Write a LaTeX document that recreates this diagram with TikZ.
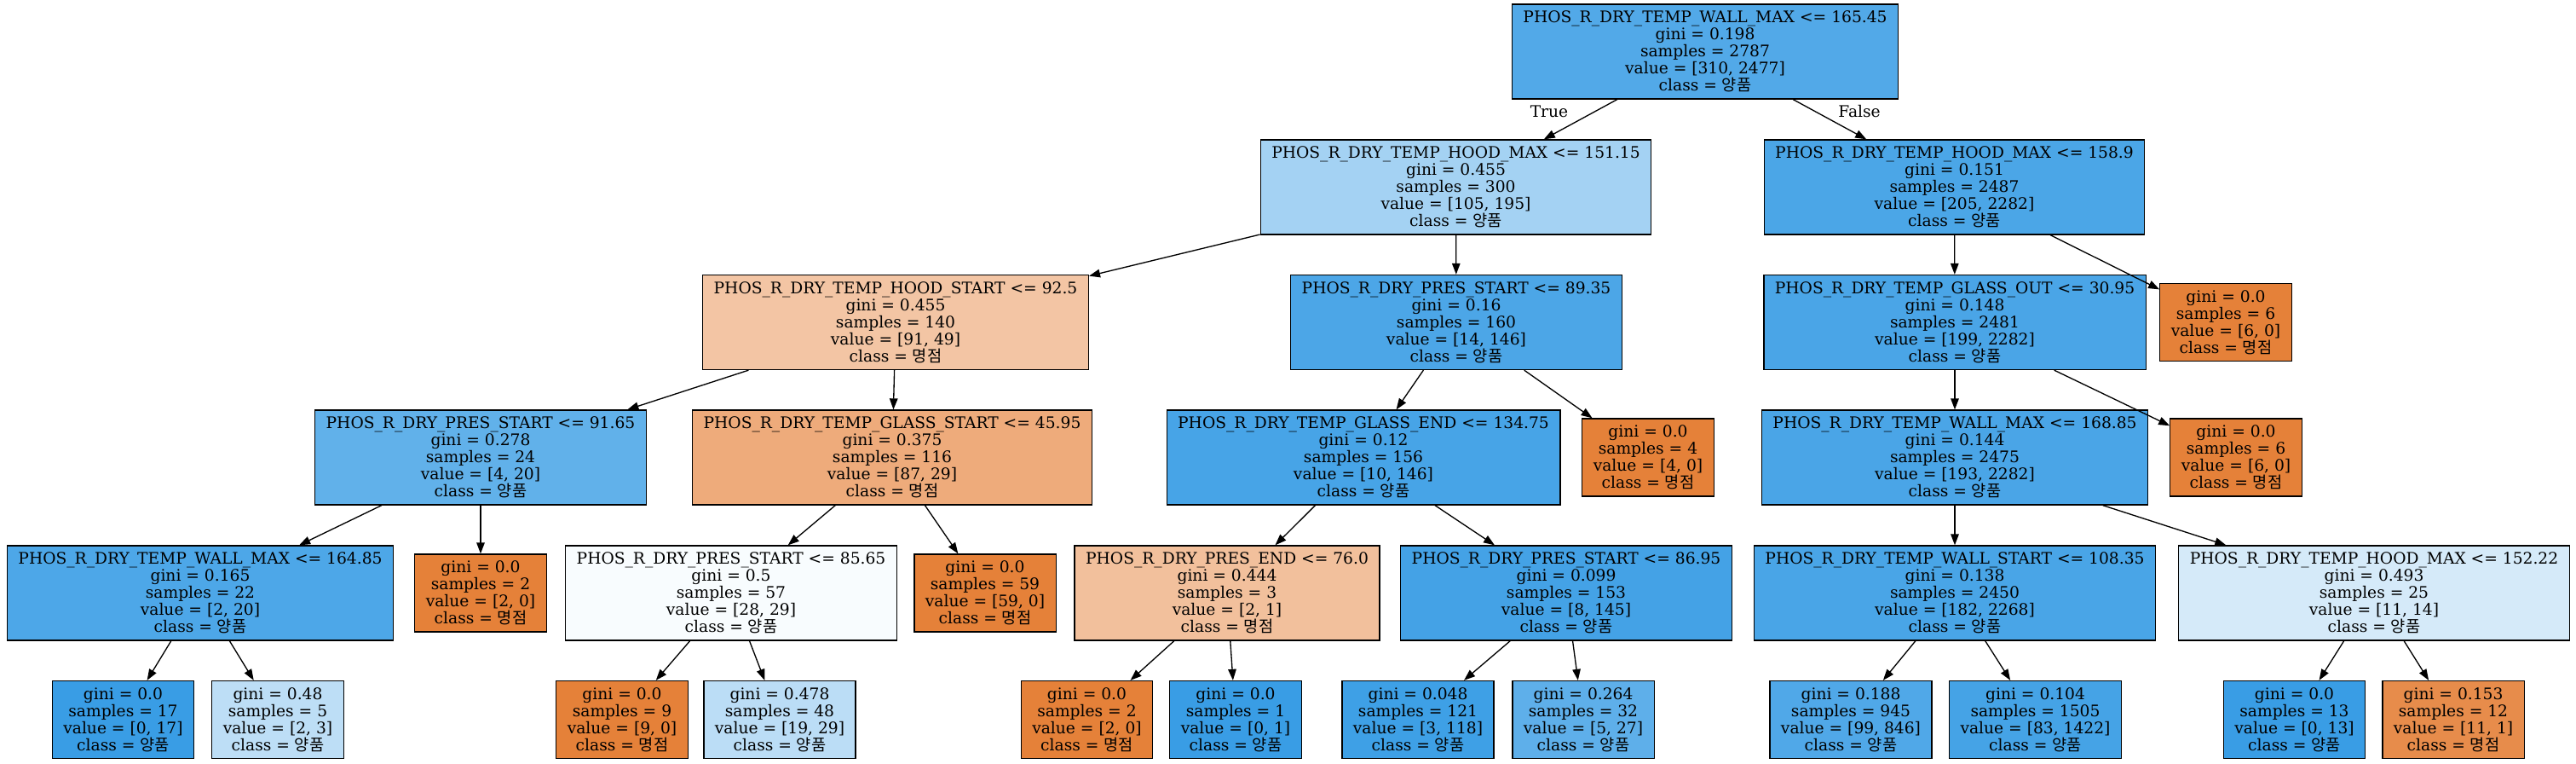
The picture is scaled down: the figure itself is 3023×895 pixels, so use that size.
\documentclass[tikz,border=0pt]{standalone}
\usepackage{fontspec}
\setmainfont{DejaVu Serif}
\newfontfamily\kr{Noto Sans CJK KR}
\usetikzlibrary{arrows.meta}
\definecolor{cA0}{RGB}{82,169,232}
\definecolor{cA}{RGB}{164,210,243}
\definecolor{cB}{RGB}{75,166,231}
\definecolor{cC}{RGB}{243,197,164}
\definecolor{cD}{RGB}{76,166,231}
\definecolor{cE}{RGB}{74,165,231}
\definecolor{cOr}{RGB}{229,129,57}
\definecolor{cBl}{RGB}{57,157,229}
\definecolor{cG}{RGB}{97,177,234}
\definecolor{cH}{RGB}{238,171,123}
\definecolor{cI}{RGB}{71,164,231}
\definecolor{cK}{RGB}{74,165,231}
\definecolor{cM}{RGB}{77,167,232}
\definecolor{cO}{RGB}{248,252,254}
\definecolor{cQ}{RGB}{242,192,156}
\definecolor{cR}{RGB}{68,162,230}
\definecolor{cS}{RGB}{73,165,231}
\definecolor{cT}{RGB}{213,234,249}
\definecolor{cV}{RGB}{189,222,246}
\definecolor{cX}{RGB}{187,221,246}
\definecolor{cAA}{RGB}{62,160,230}
\definecolor{cAB}{RGB}{94,175,234}
\definecolor{cAC}{RGB}{80,168,232}
\definecolor{cAD}{RGB}{69,163,230}
\definecolor{cAF}{RGB}{231,140,75}
\newcommand{\gp}{class = {\kr 양품}}
\newcommand{\mj}{class = {\kr 명점}}
\tikzset{
  tn/.style={draw=black, line width=1.33pt, rectangle, align=center,
    inner xsep=13pt, inner ysep=0pt, minimum height=111pt,
    font=\fontsize{18.67}{20}\selectfont},
  lf/.style={tn, minimum height=91pt},
  ed/.style={line width=1.33pt, -{Triangle[length=13pt,width=9.5pt]}},
  el/.style={font=\fontsize{18.67}{20}\selectfont},
}
\begin{document}
\begin{tikzpicture}[x=1pt,y=-1pt]
\useasboundingbox[fill=white] (0,0) rectangle (3023,895);
% level 0
\node[tn, fill=cA0] (n0) at (2001,60.5) {PHOS\_R\_DRY\_TEMP\_WALL\_MAX <= 165.45\\gini = 0.198\\samples = 2787\\value = [310, 2477]\\\gp};
% level 1
\node[tn, fill=cA] (nA) at (1708.5,219.5) {PHOS\_R\_DRY\_TEMP\_HOOD\_MAX <= 151.15\\gini = 0.455\\samples = 300\\value = [105, 195]\\\gp};
\node[tn, fill=cB] (nB) at (2293.5,219.5) {PHOS\_R\_DRY\_TEMP\_HOOD\_MAX <= 158.9\\gini = 0.151\\samples = 2487\\value = [205, 2282]\\\gp};
% level 2
\node[tn, fill=cC] (nC) at (1051,378) {PHOS\_R\_DRY\_TEMP\_HOOD\_START <= 92.5\\gini = 0.455\\samples = 140\\value = [91, 49]\\\mj};
\node[tn, fill=cD] (nD) at (1709,378) {PHOS\_R\_DRY\_PRES\_START <= 89.35\\gini = 0.16\\samples = 160\\value = [14, 146]\\\gp};
\node[tn, fill=cE] (nE) at (2294,378) {PHOS\_R\_DRY\_TEMP\_GLASS\_OUT <= 30.95\\gini = 0.148\\samples = 2481\\value = [199, 2282]\\\gp};
\node[lf, fill=cOr] (nF) at (2612,378) {gini = 0.0\\samples = 6\\value = [6, 0]\\\mj};
% level 3
\node[tn, fill=cG] (nG) at (564,536.5) {PHOS\_R\_DRY\_PRES\_START <= 91.65\\gini = 0.278\\samples = 24\\value = [4, 20]\\\gp};
\node[tn, fill=cH] (nH) at (1047,536.5) {PHOS\_R\_DRY\_TEMP\_GLASS\_START <= 45.95\\gini = 0.375\\samples = 116\\value = [87, 29]\\\mj};
\node[tn, fill=cI] (nI) at (1600,536.5) {PHOS\_R\_DRY\_TEMP\_GLASS\_END <= 134.75\\gini = 0.12\\samples = 156\\value = [10, 146]\\\gp};
\node[lf, fill=cOr] (nJ) at (1934,536.5) {gini = 0.0\\samples = 4\\value = [4, 0]\\\mj};
\node[tn, fill=cK] (nK) at (2294,536.5) {PHOS\_R\_DRY\_TEMP\_WALL\_MAX <= 168.85\\gini = 0.144\\samples = 2475\\value = [193, 2282]\\\gp};
\node[lf, fill=cOr] (nL) at (2624,536.5) {gini = 0.0\\samples = 6\\value = [6, 0]\\\mj};
% level 4
\node[tn, fill=cM] (nM) at (235,695.5) {PHOS\_R\_DRY\_TEMP\_WALL\_MAX <= 164.85\\gini = 0.165\\samples = 22\\value = [2, 20]\\\gp};
\node[lf, fill=cOr] (nN) at (564,695.5) {gini = 0.0\\samples = 2\\value = [2, 0]\\\mj};
\node[tn, fill=cO] (nO) at (858,695.5) {PHOS\_R\_DRY\_PRES\_START <= 85.65\\gini = 0.5\\samples = 57\\value = [28, 29]\\\gp};
\node[lf, fill=cOr] (nP) at (1156,695.5) {gini = 0.0\\samples = 59\\value = [59, 0]\\\mj};
\node[tn, fill=cQ] (nQ) at (1440,695.5) {PHOS\_R\_DRY\_PRES\_END <= 76.0\\gini = 0.444\\samples = 3\\value = [2, 1]\\\mj};
\node[tn, fill=cR] (nR) at (1838,695.5) {PHOS\_R\_DRY\_PRES\_START <= 86.95\\gini = 0.099\\samples = 153\\value = [8, 145]\\\gp};
\node[tn, fill=cS] (nS) at (2294,695.5) {PHOS\_R\_DRY\_TEMP\_WALL\_START <= 108.35\\gini = 0.138\\samples = 2450\\value = [182, 2268]\\\gp};
\node[tn, fill=cT] (nT) at (2786,695.5) {PHOS\_R\_DRY\_TEMP\_HOOD\_MAX <= 152.22\\gini = 0.493\\samples = 25\\value = [11, 14]\\\gp};
% level 5
\node[lf, fill=cBl] (nU) at (144.5,844) {gini = 0.0\\samples = 17\\value = [0, 17]\\\gp};
\node[lf, fill=cV] (nV) at (326,844) {gini = 0.48\\samples = 5\\value = [2, 3]\\\gp};
\node[lf, fill=cOr] (nW) at (730,844) {gini = 0.0\\samples = 9\\value = [9, 0]\\\mj};
\node[lf, fill=cX] (nX) at (915,844) {gini = 0.478\\samples = 48\\value = [19, 29]\\\gp};
\node[lf, fill=cOr] (nY) at (1275.5,844) {gini = 0.0\\samples = 2\\value = [2, 0]\\\mj};
\node[lf, fill=cBl] (nZ) at (1450,844) {gini = 0.0\\samples = 1\\value = [0, 1]\\\gp};
\node[lf, fill=cAA] (nAA) at (1664,844) {gini = 0.048\\samples = 121\\value = [3, 118]\\\gp};
\node[lf, fill=cAB] (nAB) at (1858,844) {gini = 0.264\\samples = 32\\value = [5, 27]\\\gp};
\node[lf, fill=cAC] (nAC) at (2172,844) {gini = 0.188\\samples = 945\\value = [99, 846]\\\gp};
\node[lf, fill=cAD] (nAD) at (2388.5,844) {gini = 0.104\\samples = 1505\\value = [83, 1422]\\\gp};
\node[lf, fill=cBl] (nAE) at (2692.5,844) {gini = 0.0\\samples = 13\\value = [0, 13]\\\gp};
\node[lf, fill=cAF] (nAF) at (2879,844) {gini = 0.153\\samples = 12\\value = [11, 1]\\\mj};
% edges
\draw[ed] (n0) -- (nA);
\draw[ed] (n0) -- (nB);
\node[el] (lT) at (1818,131) {True};
\node[el] (lF) at (2182,131) {False};
\foreach \a/\b in {nA/nC,nA/nD,nB/nE,nB/nF,nC/nG,nC/nH,nD/nI,nD/nJ,nE/nK,nE/nL,
  nG/nM,nG/nN,nH/nO,nH/nP,nI/nQ,nI/nR,nK/nS,nK/nT,
  nM/nU,nM/nV,nO/nW,nO/nX,nQ/nY,nQ/nZ,nR/nAA,nR/nAB,nS/nAC,nS/nAD,nT/nAE,nT/nAF}
  \draw[ed] (\a) -- (\b);
\end{tikzpicture}
\end{document}
